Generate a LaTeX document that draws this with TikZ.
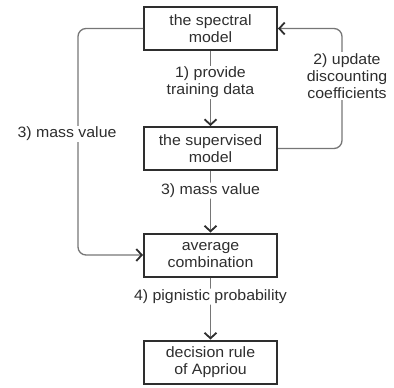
\documentclass[tikz,border=0pt]{standalone}
\usepackage{fontspec}
\setmainfont{Liberation Sans}[FakeStretch=1.06]
\usetikzlibrary{arrows.meta}
\definecolor{ink}{HTML}{2E2E2E}
\definecolor{wire}{HTML}{767676}

\begin{document}
\begin{tikzpicture}[x=1pt,y=-1pt]
\tikzstyle{box}=[draw=ink, line width=2pt, minimum width=133pt, minimum height=43pt,
  inner sep=0pt, align=center, text=ink, font=\fontsize{15}{17.5}\selectfont]
\tikzstyle{link}=[draw=wire, line width=1.3pt, rounded corners=8pt,
  -{Straight Barb[length=5.5pt,width=12pt,line width=1.8pt,color=ink]}]
\tikzstyle{tag}=[fill=white, inner sep=1pt, align=center, text=ink,
  font=\fontsize{15}{17}\selectfont]
\useasboundingbox (0,0) rectangle (394,388);

% boxes
\node[box] (spectral) at (210.5,28.5) {the spectral\\model};
\node[box] (sup) at (210.5,148.5) {the supervised\\model};
\node[box] (avg) at (210.5,255) {average\\combination};
\node[box] (rule) at (210.5,362) {decision rule\\of Appriou};

% corners of the side loops
\coordinate (lt) at (78,28.5);
\coordinate (lb) at (78,255);
\coordinate (rb) at (342,148.5);
\coordinate (rt) at (342,28.5);

% down the middle
\draw[link] (spectral) -- (sup)
  node[tag, pos=0.42] {1) provide\\training data};
\draw[link] (sup) -- (avg)
  node[tag, pos=0.32] {3) mass value};
\draw[link] (avg) -- (rule)
  node[tag, pos=0.31] {4) pignistic probability};

% left loop
\draw[link] (spectral.west) -- (lt) -- (lb) -- (avg.west);
\node[tag] (massl) at (67,134) {3) mass value};

% right loop
\draw[link] (sup.east) -- (rb) -- (rt) -- (spectral.east);
\node[tag] (update) at (347,76) {2) update\\discounting\\coefficients};
\end{tikzpicture}
\end{document}
